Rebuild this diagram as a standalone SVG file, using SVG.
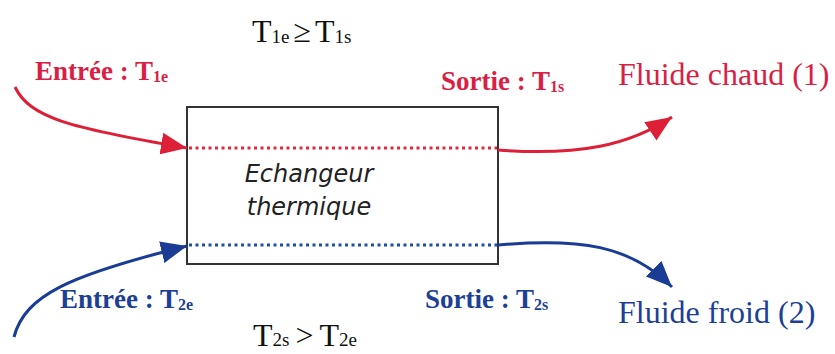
<svg xmlns="http://www.w3.org/2000/svg" width="835" height="354" viewBox="0 0 835 354">
  <style>
    .lbl { font-family: "Liberation Serif", "Times New Roman", serif; font-weight: bold; font-size: 27px; }
    .red { fill: #d91f45; }
    .blue { fill: #1d3f95; }
    .big { font-family: "Liberation Serif", "Times New Roman", serif; font-size: 32px; }
    .eq { font-family: "Liberation Serif", "Times New Roman", serif; font-size: 32px; fill: #111; }
    .sub { font-size: 19px; }
    .lsub { font-size: 16px; }
    .name { font-family: "DejaVu Sans", sans-serif; font-style: italic; font-size: 24px; fill: #222; }
    .redline { fill: none; stroke: #dd1f38; stroke-width: 3; }
    .blueline { fill: none; stroke: #1a3c94; stroke-width: 3; }
    .dotred { stroke: #e02a3c; stroke-width: 3; stroke-dasharray: 3 3.5; }
    .dotblue { stroke: #1b4fa8; stroke-width: 3; stroke-dasharray: 3 3.5; }
  </style>
  <defs>
    <marker id="arrRed" viewBox="0 0 26 22" refX="26" refY="11" markerWidth="26" markerHeight="22" markerUnits="userSpaceOnUse" orient="auto">
      <path d="M0,0 L26,11 L0,22 Z" fill="#dd1f38"/>
    </marker>
    <marker id="arrBlue" viewBox="0 0 26 22" refX="26" refY="11" markerWidth="26" markerHeight="22" markerUnits="userSpaceOnUse" orient="auto">
      <path d="M0,0 L26,11 L0,22 Z" fill="#1a3c94"/>
    </marker>
  </defs>
  <rect width="835" height="354" fill="#ffffff"/>

  <g id="echangeur">
    <rect x="187" y="107" width="311" height="157" fill="#ffffff" stroke="#333333" stroke-width="2"/>
    <line class="dotred" x1="189" y1="148" x2="497" y2="148"/>
    <line class="dotblue" x1="189" y1="245" x2="497" y2="245"/>
    <text class="name" x="309" y="182" text-anchor="middle">Echangeur</text>
    <text class="name" x="309" y="215" text-anchor="middle">thermique</text>
  </g>

  <g id="connectors">
    <path class="redline" d="M15,87 C30,118 70,128 187,148" marker-end="url(#arrRed)"/>
    <path class="redline" d="M498,150 C580,156 630,145 672,117" marker-end="url(#arrRed)"/>
    <path class="blueline" d="M14,337 C25,295 70,275 187,246" marker-end="url(#arrBlue)"/>
    <path class="blueline" d="M498,245 C580,238 630,245 672,287" marker-end="url(#arrBlue)"/>
  </g>

  <g id="cond-chaud">
    <text class="eq" x="252" y="42">T<tspan class="sub" dy="1">1e</tspan><tspan dy="-1" dx="4">≥</tspan><tspan dx="4">T</tspan><tspan class="sub" dy="1">1s</tspan></text>
  </g>
  <g id="cond-froid">
    <text class="eq" x="253" y="346">T<tspan class="sub">2s</tspan><tspan dx="6">&gt;</tspan><tspan dx="6">T</tspan><tspan class="sub">2e</tspan></text>
  </g>

  <g id="entree-chaud">
    <text class="lbl red" x="35" y="80">Entrée : T<tspan class="lsub" dy="2">1e</tspan></text>
  </g>
  <g id="sortie-chaud">
    <text class="lbl red" x="441" y="90">Sortie : T<tspan class="lsub" dy="2">1s</tspan></text>
  </g>
  <g id="fluide-chaud">
    <text class="big red" x="618" y="85">Fluide chaud (1)</text>
  </g>

  <g id="entree-froid">
    <text class="lbl blue" x="60" y="308">Entrée : T<tspan class="lsub" dy="2">2e</tspan></text>
  </g>
  <g id="sortie-froid">
    <text class="lbl blue" x="425" y="308">Sortie : T<tspan class="lsub" dy="2">2s</tspan></text>
  </g>
  <g id="fluide-froid">
    <text class="big blue" x="618" y="323">Fluide froid (2)</text>
  </g>
</svg>
